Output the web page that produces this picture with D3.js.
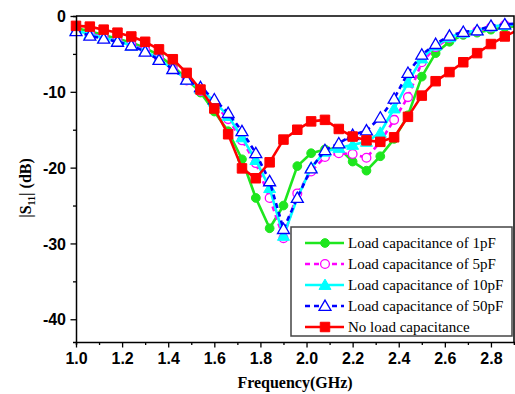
<!DOCTYPE html>
<html>
<head>
<meta charset="utf-8">
<script src="https://cdn.jsdelivr.net/npm/d3@7"></script>
<style>
  body { margin: 0; background: #fff; }
  svg { font-family: "Liberation Serif", "Times New Roman", serif; }
</style>
</head>
<body>
<svg id="chart"></svg>
<script>
// frequency points (GHz), every 0.06 from 1.0
const freq = [1.00, 1.06, 1.12, 1.18, 1.24, 1.30, 1.36, 1.42, 1.48, 1.54, 1.60, 1.66, 1.72, 1.78, 1.84, 1.90,
              1.96, 2.02, 2.08, 2.14, 2.20, 2.26, 2.32, 2.38, 2.44, 2.50, 2.56, 2.62, 2.68, 2.74, 2.80, 2.86, 2.92];

// |S11| in dB
const load1pF = [-1.6, -2.0, -2.5, -3.0, -3.5, -4.2, -5.2, -6.6, -8.3, -10.1, -12.6, -15.2, -18.9, -24.0, -28.0, -25.0,
                 -19.8, -18.1, -17.6, -17.4, -19.2, -20.4, -18.5, -16.2, -13.1, -8.0, -4.9, -3.4, -2.5, -2.2, -1.8, -1.5, -1.3];
const load5pF = [-1.8, -2.3, -2.8, -3.3, -3.8, -4.5, -5.6, -7.0, -8.5, -9.9, -11.6, -13.6, -16.4, -19.4, -24.0, -29.3,
                 -23.4, -20.5, -18.6, -18.1, -18.2, -18.7, -16.6, -13.7, -10.7, -6.1, -4.1, -2.9, -2.3, -2.0, -1.5, -1.2, -1.1];
const load10pF = [-1.9, -2.4, -2.9, -3.3, -3.9, -4.6, -5.7, -7.0, -8.4, -9.6, -11.3, -13.2, -16.0, -19.0, -22.7, -29.0,
                  -24.0, -20.0, -17.9, -17.4, -17.0, -16.6, -15.4, -12.2, -8.8, -5.6, -3.9, -2.8, -2.2, -1.9, -1.4, -1.2, -1.1];
const load50pF = [-2.0, -2.6, -3.0, -3.4, -3.9, -4.7, -5.8, -7.0, -8.4, -9.4, -11.0, -12.8, -15.2, -18.1, -21.8, -28.1,
                  -24.0, -20.1, -17.7, -16.8, -15.7, -15.1, -13.4, -10.9, -7.5, -5.1, -3.7, -2.6, -2.1, -1.9, -1.3, -1.1, -1.0];
const noLoad = [-1.3, -1.4, -1.8, -2.2, -2.7, -3.4, -4.4, -5.7, -7.5, -9.7, -12.2, -15.6, -20.1, -21.4, -19.3, -16.3,
                -15.0, -13.9, -13.7, -14.9, -15.9, -16.4, -16.6, -16.0, -13.3, -10.5, -8.6, -7.4, -6.1, -4.9, -3.7, -2.7, -1.8];

const seriesNames = ['Load capacitance of 1pF', 'Load capacitance of 5pF', 'Load capacitance of 10pF',
                     'Load capacitance of 50pF', 'No load capacitance'];
const xTicks = [1.0, 1.2, 1.4, 1.6, 1.8, 2.0, 2.2, 2.4, 2.6, 2.8];
const yTicks = [0, -10, -20, -30, -40];

const width = 515, height = 394;
const margin = {top: 16, right: 1, bottom: 52, left: 76};

const svg = d3.select('#chart').attr('width', width).attr('height', height);

const x = d3.scaleLinear().domain([1.0, 2.9]).range([margin.left, width - margin.right]);
const y = d3.scaleLinear().domain([-43, 0]).range([height - margin.bottom, margin.top]);

// series styles
const styles = [
  {data: load1pF, color: '#1ee61e', dash: null, marker: 'circle', fill: true},
  {data: load5pF, color: '#ff00ff', dash: '5,4', marker: 'circle', fill: false},
  {data: load10pF, color: '#00ffff', dash: null, marker: 'triangle', fill: true},
  {data: load50pF, color: '#0000ff', dash: '5,4', marker: 'triangle', fill: false},
  {data: noLoad, color: '#ff0000', dash: null, marker: 'square', fill: true}
];

svg.append('defs').append('clipPath').attr('id', 'clip')
  .append('rect')
  .attr('x', margin.left).attr('y', margin.top)
  .attr('width', width - margin.left - margin.right)
  .attr('height', height - margin.top - margin.bottom);

const line = d3.line().x((d, i) => x(freq[i])).y(d => y(d));

const symbolOf = s => s.marker === 'circle' ? d3.symbol(d3.symbolCircle, 60)
  : s.marker === 'triangle' ? d3.symbol(d3.symbolTriangle, 62)
  : d3.symbol(d3.symbolSquare, 90);

function drawMarker(g, s, cx, cy) {
  const dy = s.marker === 'triangle' ? 1 : 0;
  g.append('path')
    .attr('d', symbolOf(s)())
    .attr('transform', `translate(${cx},${cy + dy})`)
    .attr('fill', s.fill ? s.color : '#fff')
    .attr('stroke', s.color)
    .attr('stroke-width', s.fill ? 1 : 1.3);
}

styles.forEach(s => {
  const g = svg.append('g');
  g.append('path')
    .datum(s.data)
    .attr('clip-path', 'url(#clip)')
    .attr('fill', 'none')
    .attr('stroke', s.color)
    .attr('stroke-width', 2.6)
    .attr('stroke-dasharray', s.dash)
    .attr('stroke-linejoin', 'round')
    .attr('d', line);
  s.data.forEach((v, i) => {
    if (freq[i] <= 2.9) drawMarker(g, s, x(freq[i]), y(v));
  });
});

// axes
const xAxis = svg.append('g').attr('transform', `translate(0,${height - margin.bottom})`);
xAxis.call(d3.axisBottom(x).tickValues(d3.range(1.0, 2.91, 0.1)).tickSize(3).tickFormat(''));
xAxis.call(g => g.selectAll('.tick').filter(d => xTicks.some(t => Math.abs(t - d) < 1e-6))
  .select('line').attr('y2', 5.5));
xAxis.selectAll('.tick').filter(d => xTicks.some(t => Math.abs(t - d) < 1e-6))
  .append('text')
  .attr('y', 22).attr('fill', '#000')
  .attr('font-size', 16).attr('font-weight', 'bold')
  .attr('text-anchor', 'middle')
  .text(d => d3.format('.1f')(d));

const yAxis = svg.append('g').attr('transform', `translate(${margin.left},0)`);
yAxis.call(d3.axisLeft(y).tickValues(d3.range(0, -43, -5)).tickSize(3).tickFormat(''));
yAxis.selectAll('.tick').filter(d => yTicks.includes(d)).select('line').attr('x2', -5.5);
yAxis.selectAll('.tick').filter(d => yTicks.includes(d))
  .append('text')
  .attr('x', -10).attr('dy', '0.35em').attr('fill', '#000')
  .attr('font-size', 16).attr('font-weight', 'bold')
  .attr('text-anchor', 'end')
  .text(d => d);

[xAxis, yAxis].forEach(a => {
  a.selectAll('path.domain').attr('stroke', '#000').attr('stroke-width', 1.5);
  a.selectAll('.tick line').attr('stroke', '#000').attr('stroke-width', 1.3);
});

// box top and right
svg.append('path')
  .attr('d', `M${margin.left},${margin.top}H${width - margin.right}V${height - margin.bottom}`)
  .attr('fill', 'none').attr('stroke', '#000').attr('stroke-width', 1.5);

// axis titles
svg.append('text')
  .attr('x', 295).attr('y', 388)
  .attr('text-anchor', 'middle')
  .attr('font-size', 16).attr('font-weight', 'bold')
  .text('Frequency(GHz)');

const yTitle = svg.append('text')
  .attr('transform', 'translate(31,188) rotate(-90)')
  .attr('text-anchor', 'middle')
  .attr('font-size', 16).attr('font-weight', 'bold');
yTitle.append('tspan').text('|S');
yTitle.append('tspan').attr('font-size', 10).attr('dy', 4).text('11');
yTitle.append('tspan').attr('dy', -4).text('| (dB)');

// legend
const lg = svg.append('g').attr('transform', 'translate(291,227)');
lg.append('rect')
  .attr('width', 221).attr('height', 109)
  .attr('fill', '#fff').attr('stroke', '#444').attr('stroke-width', 1.5);
styles.forEach((s, i) => {
  const cy = 16 + i * 21;
  lg.append('line')
    .attr('x1', 14).attr('x2', 53).attr('y1', cy).attr('y2', cy)
    .attr('stroke', s.color).attr('stroke-width', 2.6)
    .attr('stroke-dasharray', s.dash);
  drawMarker(lg, s, 34, cy);
  lg.append('text')
    .attr('x', 57).attr('y', cy).attr('dy', '0.35em')
    .attr('font-size', 15)
    .text(seriesNames[i]);
});
</script>
</body>
</html>
